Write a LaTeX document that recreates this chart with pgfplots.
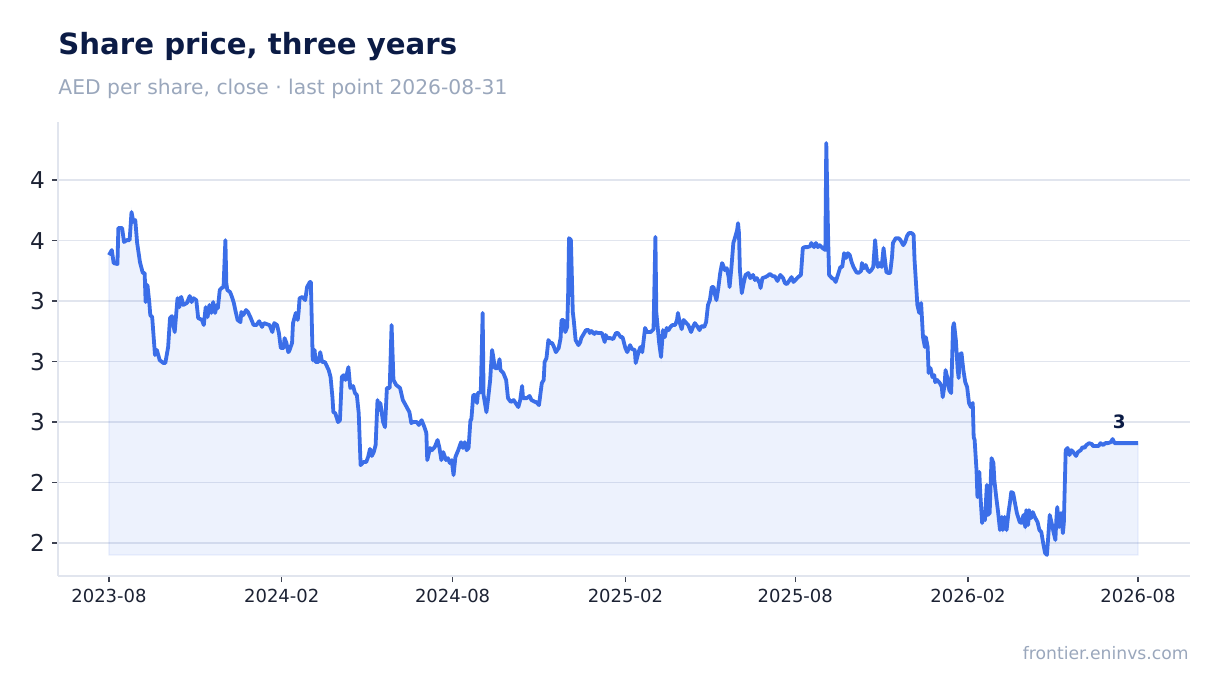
\documentclass[border=0pt]{standalone}
\usepackage{fontspec}
\setmainfont{DejaVu Sans}
\usepackage{pgfplots}
\pgfplotsset{compat=1.18}
\usepgfplotslibrary{fillbetween}

\definecolor{linecol}{RGB}{59,110,232}
\definecolor{titlecol}{RGB}{11,27,69}
\definecolor{subcol}{RGB}{154,167,188}
\definecolor{tickcol}{RGB}{28,34,51}
\definecolor{gridcol}{RGB}{225,229,238}

\begin{document}
\begin{tikzpicture}

\node[anchor=base west, inner sep=0pt, text=titlecol, font=\bfseries\fontsize{14.6}{16}\selectfont]
  at (29pt,319.5pt) {Share price, three years};
\node[anchor=base west, inner sep=0pt, text=subcol, font=\fontsize{10.15}{12}\selectfont]
  at (29pt,299.5pt) {AED per share, close · last point 2026-08-31};
\node[anchor=base east, inner sep=0pt, text=subcol, font=\fontsize{8.6}{10}\selectfont]
  at (594.5pt,17pt) {frontier.eninvs.com};

\begin{axis}[
    set layers,
    at={(29pt,58.5pt)}, anchor=south west,
    scale only axis,
    width=566pt, height=227pt,
    xmin=-54.3, xmax=1151.4,
    ymin=2.114, ymax=3.990,
    axis x line*=bottom, axis y line*=left,
    axis line style={draw=gridcol, line width=0.8pt},
    xtick={0,184,366,550,731,915,1096},
    xticklabels={2023-08,2024-02,2024-08,2025-02,2025-08,2026-02,2026-08},
    ytick={2.25,2.5,2.75,3.0,3.25,3.5,3.75},
    yticklabels={2,2,3,3,3,4,4},
    tick align=outside,
    major tick length=3pt,
    tick style={draw=tickcol!85, line width=0.6pt},
    ymajorgrids=true,
    grid style={draw=gridcol, line width=0.6pt},
    /pgf/number format/assume math mode=true,
    xticklabel style={text=tickcol, font=\fontsize{9}{10}\selectfont},
    yticklabel style={text=tickcol, font=\fontsize{11.6}{13}\selectfont},
    clip=false,
]

% daily close, AED (x = days since 2023-08-01)
\addplot[draw=linecol, line width=1.9pt, line join=round, name path=price] coordinates {
(0,3.440) (3,3.461) (5,3.407) (9,3.403) (10,3.552) (14,3.552) (16,3.494) (19,3.502)
(22,3.502) (24,3.618) (26,3.577) (28,3.585) (30,3.490) (33,3.411) (36,3.366) (38,3.366)
(39,3.246) (41,3.316) (43,3.242) (44,3.192) (46,3.184) (49,3.027) (51,3.048) (54,3.006)
(58,2.994) (60,2.994) (63,3.060) (65,3.180) (67,3.188) (68,3.163) (70,3.122) (73,3.262)
(75,3.225) (76,3.262) (77,3.267) (79,3.234) (83,3.242) (86,3.271) (88,3.246) (90,3.262)
(93,3.254) (95,3.180) (99,3.172) (101,3.151) (103,3.225) (105,3.184) (107,3.234) (109,3.201)
(111,3.246) (113,3.201) (115,3.234) (116,3.221) (118,3.296) (120,3.304) (122,3.308) (124,3.502)
(125,3.324) (126,3.296) (129,3.287) (131,3.267) (133,3.242) (135,3.205) (137,3.172) (140,3.163)
(141,3.205) (143,3.192) (146,3.213) (148,3.205) (151,3.180) (154,3.151) (157,3.151) (160,3.167)
(163,3.143) (165,3.159) (168,3.155) (171,3.151) (174,3.122) (176,3.159) (179,3.151) (181,3.118)
(183,3.056) (186,3.056) (187,3.097) (189,3.077) (191,3.039) (192,3.044) (195,3.077) (196,3.159)
(199,3.201) (201,3.172) (202,3.205) (203,3.262) (206,3.267) (209,3.254) (211,3.308) (214,3.329)
(215,3.329) (217,3.006) (219,3.048) (220,2.998) (223,2.998) (225,3.039) (227,2.998) (230,2.998)
(234,2.965) (236,2.936) (238,2.853) (239,2.791) (241,2.787) (244,2.750) (246,2.758) (248,2.936)
(250,2.944) (252,2.924) (255,2.977) (257,2.891) (260,2.899) (262,2.870) (264,2.862) (266,2.787)
(268,2.572) (271,2.585) (274,2.585) (276,2.606) (278,2.639) (280,2.610) (282,2.626) (284,2.655)
(286,2.841) (288,2.800) (289,2.829) (292,2.750) (294,2.729) (296,2.891) (299,2.891) (301,3.151)
(303,2.924) (306,2.903) (310,2.891) (313,2.841) (316,2.820) (320,2.791) (322,2.746) (324,2.750)
(328,2.750) (330,2.738) (333,2.758) (336,2.729) (338,2.705) (339,2.593) (342,2.643) (344,2.634)
(347,2.647) (350,2.676) (352,2.643) (354,2.593) (356,2.626) (359,2.593) (361,2.601) (363,2.581)
(365,2.593) (367,2.531) (369,2.606) (372,2.634) (375,2.667) (377,2.643) (379,2.667) (381,2.634)
(383,2.643) (385,2.758) (386,2.762) (388,2.862) (390,2.862) (392,2.829) (393,2.870) (396,2.874)
(398,3.201) (399,2.862) (402,2.791) (404,2.853) (406,2.924) (408,3.048) (409,3.027) (411,2.973)
(414,2.973) (416,3.010) (417,2.965) (420,2.953) (423,2.924) (425,2.849) (428,2.833) (431,2.841)
(433,2.829) (436,2.812) (438,2.841) (440,2.899) (441,2.849) (445,2.849) (448,2.858) (450,2.841)
(454,2.833) (455,2.833) (458,2.820) (461,2.911) (463,2.924) (464,2.998) (466,3.015) (468,3.089)
(470,3.077) (472,3.077) (474,3.060) (476,3.039) (479,3.056) (481,3.097) (482,3.172) (484,3.172)
(486,3.122) (488,3.143) (489,3.267) (490,3.510) (492,3.502) (494,3.205) (495,3.172) (497,3.089)
(500,3.068) (502,3.081) (503,3.097) (505,3.110) (508,3.130) (511,3.130) (512,3.118) (514,3.126)
(517,3.114) (518,3.122) (521,3.118) (525,3.118) (528,3.081) (529,3.110) (531,3.097) (534,3.097)
(537,3.093) (540,3.118) (542,3.118) (545,3.101) (547,3.101) (550,3.056) (552,3.039) (555,3.068)
(557,3.052) (560,3.048) (561,2.994) (564,3.039) (566,3.060) (568,3.039) (571,3.139) (573,3.122)
(577,3.122) (580,3.134) (582,3.515) (583,3.201) (586,3.077) (588,3.019) (590,3.130) (592,3.101)
(594,3.139) (596,3.130) (598,3.143) (600,3.151) (603,3.151) (605,3.172) (606,3.201) (608,3.159)
(610,3.134) (612,3.172) (615,3.159) (617,3.151) (620,3.122) (622,3.143) (624,3.159) (627,3.143)
(629,3.130) (631,3.147) (634,3.143) (636,3.163) (638,3.234) (640,3.254) (642,3.308) (644,3.308)
(645,3.283) (647,3.254) (649,3.304) (651,3.366) (653,3.407) (654,3.399) (656,3.378) (658,3.386)
(660,3.349) (661,3.308) (663,3.391) (665,3.490) (667,3.515) (669,3.543) (670,3.572) (671,3.531)
(672,3.378) (674,3.283) (676,3.324) (678,3.358) (681,3.366) (683,3.345) (686,3.358) (688,3.337)
(690,3.345) (693,3.324) (694,3.304) (696,3.345) (699,3.349) (701,3.353) (704,3.362) (707,3.353)
(709,3.353) (712,3.333) (715,3.358) (718,3.345) (720,3.324) (722,3.320) (725,3.337) (727,3.349)
(729,3.329) (731,3.337) (734,3.349) (737,3.358) (739,3.469) (741,3.473) (744,3.473) (747,3.477)
(748,3.490) (751,3.473) (753,3.490) (755,3.473) (757,3.481) (760,3.469) (763,3.461) (764,3.903)
(766,3.502) (767,3.358) (770,3.345) (772,3.341) (774,3.329) (777,3.366) (779,3.391) (781,3.391)
(783,3.448) (785,3.428) (787,3.448) (789,3.440) (791,3.411) (793,3.391) (796,3.370) (798,3.366)
(801,3.374) (802,3.407) (804,3.386) (806,3.399) (808,3.378) (810,3.370) (812,3.378) (814,3.391)
(816,3.502) (818,3.407) (819,3.391) (821,3.407) (823,3.391) (825,3.469) (828,3.370) (830,3.366)
(832,3.366) (834,3.432) (835,3.490) (838,3.510) (841,3.510) (843,3.502) (846,3.481) (848,3.494)
(850,3.519) (852,3.531) (855,3.531) (857,3.523) (858,3.420) (860,3.296) (861,3.234) (863,3.201)
(865,3.242) (866,3.172) (867,3.101) (869,3.060) (870,3.101) (872,3.060) (873,2.953) (875,2.973)
(877,2.936) (879,2.944) (880,2.915) (882,2.924) (885,2.911) (887,2.895) (888,2.853) (890,2.903)
(891,2.965) (893,2.932) (895,2.882) (897,2.870) (899,3.143) (900,3.159) (902,3.089) (904,2.965)
(905,2.932) (906,3.027) (908,3.035) (910,2.965) (912,2.915) (914,2.895) (916,2.829) (918,2.812)
(920,2.829) (921,2.688) (922,2.676) (924,2.552) (925,2.440) (927,2.544) (928,2.457) (930,2.333)
(931,2.353) (933,2.345) (935,2.490) (936,2.366) (938,2.374) (940,2.601) (942,2.581) (943,2.510)
(945,2.440) (947,2.378) (949,2.304) (951,2.358) (952,2.304) (954,2.358) (956,2.304) (958,2.374)
(960,2.428) (961,2.461) (963,2.457) (965,2.415) (967,2.374) (970,2.337) (972,2.333) (974,2.366)
(976,2.316) (977,2.386) (979,2.325) (980,2.386) (982,2.353) (984,2.378) (986,2.358) (989,2.337)
(991,2.304) (993,2.296) (995,2.250) (997,2.209) (999,2.201) (1000,2.254) (1002,2.366) (1004,2.333)
(1006,2.296) (1008,2.263) (1009,2.345) (1010,2.399) (1012,2.316) (1014,2.374) (1016,2.291) (1017,2.333)
(1019,2.634) (1021,2.643) (1023,2.614) (1025,2.634) (1027,2.626) (1030,2.610) (1032,2.626) (1035,2.634)
(1037,2.647) (1039,2.643) (1041,2.655) (1044,2.663) (1047,2.659) (1048,2.651) (1051,2.651) (1054,2.651)
(1056,2.663) (1059,2.655) (1061,2.663) (1064,2.663) (1067,2.667) (1069,2.680) (1071,2.663) (1075,2.663)
(1080,2.663) (1085,2.663) (1090,2.663) (1096,2.663)
};

% baseline of the shaded area: lowest close of the period
\addplot[draw=none, name path=base, forget plot] coordinates {(0,2.201) (1096,2.201)};

\addplot[fill=linecol, fill opacity=0.09, draw=linecol, draw opacity=0.10, line width=0.6pt]
  fill between[of=price and base];

\node[anchor=south east, inner sep=0pt, xshift=-6pt, yshift=7pt, text=titlecol,
      font=\bfseries\fontsize{9.2}{10}\selectfont] at (axis cs:1096,2.663) {3};

\end{axis}

\path (0,0) rectangle (610pt,346.5pt);
\end{tikzpicture}
\end{document}
